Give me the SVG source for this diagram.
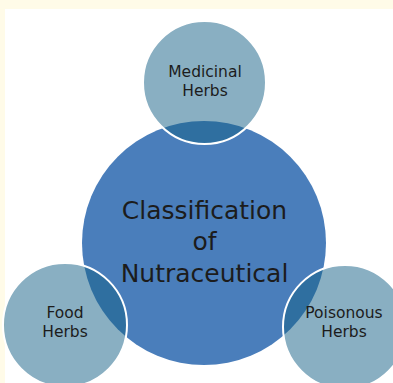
<svg xmlns="http://www.w3.org/2000/svg" width="393" height="383" viewBox="0 0 393 383">
  <style>
    .label { font-family: "DejaVu Sans", "Liberation Sans", sans-serif; fill: #1c1c1c; text-anchor: middle; }
    .main { font-size: 25px; }
    .small { font-size: 15.5px; }
    .core { fill: #4a7ebb; }
    .petal { fill: rgb(20,95,133); fill-opacity: 0.5; stroke: #ffffff; stroke-width: 2; }
  </style>
  <!-- page background -->
  <rect x="0" y="0" width="393" height="383" fill="#fffbe8"/>
  <rect x="5" y="9" width="388" height="374" fill="#ffffff"/>

  <g id="core">
    <circle class="core" cx="204" cy="243" r="122"/>
    <text class="label main" x="204.5" y="219">Classification</text>
    <text class="label main" x="204.5" y="250">of</text>
    <text class="label main" x="204.5" y="282">Nutraceutical</text>
  </g>

  <g id="medicinal">
    <circle class="petal" cx="204.5" cy="82.5" r="61.5"/>
    <text class="label small" x="205" y="77">Medicinal</text>
    <text class="label small" x="205" y="96">Herbs</text>
  </g>

  <g id="food">
    <circle class="petal" cx="65" cy="325" r="62"/>
    <text class="label small" x="65" y="318">Food</text>
    <text class="label small" x="65" y="337">Herbs</text>
  </g>

  <g id="poisonous">
    <circle class="petal" cx="345" cy="327" r="62"/>
    <text class="label small" x="344" y="318">Poisonous</text>
    <text class="label small" x="344" y="337">Herbs</text>
  </g>
</svg>
